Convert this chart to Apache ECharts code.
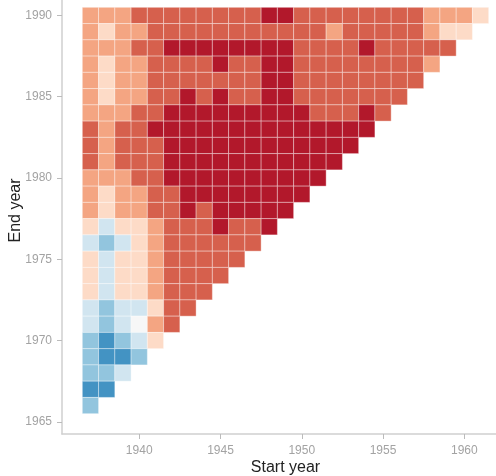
<!DOCTYPE html>
<html>
<head>
<meta charset="utf-8">
<script src="https://cdn.jsdelivr.net/npm/echarts@6/dist/echarts.min.js"></script>
<style>
  html, body { margin: 0; padding: 0; background: #ffffff; }
  #chart { width: 496px; height: 476px; }
</style>
</head>
<body>
<div id="chart"></div>
<script>
// Start years along x, end years along y (top row first)
const startYears = [1937, 1938, 1939, 1940, 1941, 1942, 1943, 1944, 1945, 1946, 1947, 1948,
  1949, 1950, 1951, 1952, 1953, 1954, 1955, 1956, 1957, 1958, 1959, 1960, 1961];
const endYears = [1990, 1989, 1988, 1987, 1986, 1985, 1984, 1983, 1982, 1981, 1980, 1979,
  1978, 1977, 1976, 1975, 1974, 1973, 1972, 1971, 1970, 1969, 1968, 1967, 1966];

// Trend class of each window, one row per end year, starting at 1937.
// 4 strong warming ... 0 neutral ... -3 strong cooling
const trendClass = [
  [2, 2, 2, 3, 3, 3, 3, 3, 3, 3, 3, 4, 4, 3, 3, 3, 3, 3, 3, 3, 3, 2, 2, 2, 1],
  [2, 1, 2, 2, 3, 3, 3, 3, 3, 3, 3, 3, 3, 3, 3, 2, 3, 3, 3, 3, 3, 2, 1, 1],
  [2, 2, 2, 3, 3, 4, 4, 4, 4, 4, 4, 4, 4, 3, 3, 3, 3, 4, 3, 3, 3, 3, 3],
  [2, 1, 2, 2, 3, 3, 3, 3, 4, 3, 3, 4, 4, 3, 3, 3, 3, 3, 3, 3, 3, 2],
  [2, 1, 2, 2, 3, 3, 3, 3, 3, 3, 3, 4, 4, 3, 3, 3, 3, 3, 3, 3, 3],
  [2, 1, 2, 2, 3, 3, 4, 3, 4, 3, 3, 4, 4, 3, 3, 3, 3, 3, 3, 3],
  [2, 2, 2, 3, 3, 4, 4, 4, 4, 4, 4, 4, 4, 4, 3, 3, 3, 4, 3],
  [3, 2, 3, 3, 4, 4, 4, 4, 4, 4, 4, 4, 4, 4, 4, 4, 4, 4],
  [3, 2, 3, 3, 3, 4, 4, 4, 4, 4, 4, 4, 4, 4, 4, 4, 4],
  [3, 2, 3, 3, 3, 4, 4, 4, 4, 4, 4, 4, 4, 4, 4, 4],
  [2, 2, 2, 3, 3, 4, 4, 4, 4, 4, 4, 4, 4, 4, 4],
  [2, 1, 2, 2, 3, 3, 4, 4, 4, 4, 4, 4, 4, 4],
  [2, 1, 2, 2, 3, 3, 4, 3, 4, 4, 4, 4, 4],
  [1, -1, 1, 1, 2, 3, 3, 3, 4, 3, 3, 4],
  [-1, -2, -1, 1, 2, 3, 3, 3, 3, 3, 3],
  [1, -1, 1, 1, 2, 3, 3, 3, 3, 3],
  [1, -1, 1, 1, 2, 3, 3, 3, 3],
  [1, -1, 1, 1, 2, 3, 3, 3],
  [-1, -2, -1, -1, 1, 3, 3],
  [-1, -2, -1, 0, 2, 3],
  [-2, -3, -2, -1, 1],
  [-2, -3, -3, -2],
  [-2, -2, -1],
  [-3, -3],
  [-2]
];

const classLevels = [4, 3, 2, 1, 0, -1, -2, -3];
const classColors = ['#b2182b', '#d6604d', '#f4a582', '#fddbc7', '#f7f7f7', '#d1e5f0', '#92c5de', '#4393c3'];

const xTicks = [1940, 1945, 1950, 1955, 1960];
const yTicks = [1965, 1970, 1975, 1980, 1985, 1990];

const cells = [];
trendClass.forEach((row, r) => {
  row.forEach((level, k) => {
    cells.push([startYears[k], endYears[r], level]);
  });
});

const axisGrey = '#cfcfcf';
const labelGrey = '#a3a3a3';
const font = 'Liberation Sans, Arial, Helvetica, sans-serif';
const yearLabel = (v) => String(Math.round(v));

const chart = echarts.init(document.getElementById('chart'), null, { renderer: 'canvas' });
chart.setOption({
  animation: false,
  backgroundColor: '#ffffff',
  grid: { left: 62, right: -13, top: -13, bottom: 42, outerBoundsMode: 'none', containLabel: false },
  visualMap: {
    type: 'piecewise',
    show: false,
    dimension: 2,
    seriesIndex: 0,
    pieces: classLevels.map((v, i) => ({ value: v, color: classColors[i] }))
  },
  xAxis: {
    type: 'value',
    min: 1935.25,
    max: 1962.75,
    splitLine: { show: false },
    axisLine: { show: true, onZero: false, lineStyle: { color: axisGrey, width: 1.5 } },
    axisTick: { show: true, length: 5, customValues: xTicks, lineStyle: { color: '#bbbbbb', width: 1 } },
    axisLabel: { customValues: xTicks, formatter: yearLabel, color: labelGrey, fontSize: 12, margin: 11, fontFamily: font },
    name: 'Start year',
    nameLocation: 'middle',
    nameGap: 26,
    nameMoveOverlap: false,
    nameTextStyle: { color: '#222222', fontSize: 16, fontFamily: font }
  },
  yAxis: {
    type: 'value',
    min: 1964.25,
    max: 1991.75,
    splitLine: { show: false },
    axisLine: { show: true, onZero: false, lineStyle: { color: axisGrey, width: 1.5 } },
    axisTick: { show: true, length: 5, customValues: yTicks, lineStyle: { color: '#bbbbbb', width: 1 } },
    axisLabel: { customValues: yTicks, formatter: yearLabel, color: labelGrey, fontSize: 12, margin: 10, fontFamily: font },
    name: 'End year',
    nameLocation: 'middle',
    nameGap: 38,
    nameMoveOverlap: false,
    nameTextStyle: { color: '#222222', fontSize: 16, fontFamily: font }
  },
  series: [{
    type: 'custom',
    coordinateSystem: 'cartesian2d',
    encode: { x: 0, y: 1 },
    data: cells,
    renderItem: function (params, api) {
      const c = api.coord([api.value(0), api.value(1)]);
      const s = api.size([1, 1]);
      return {
        type: 'rect',
        shape: { x: c[0] - s[0] / 2, y: c[1] - s[1] / 2, width: s[0], height: s[1] },
        style: { fill: api.visual('color'), stroke: 'rgba(255,255,255,0.45)', lineWidth: 0.8 }
      };
    }
  }]
});
</script>
</body>
</html>
